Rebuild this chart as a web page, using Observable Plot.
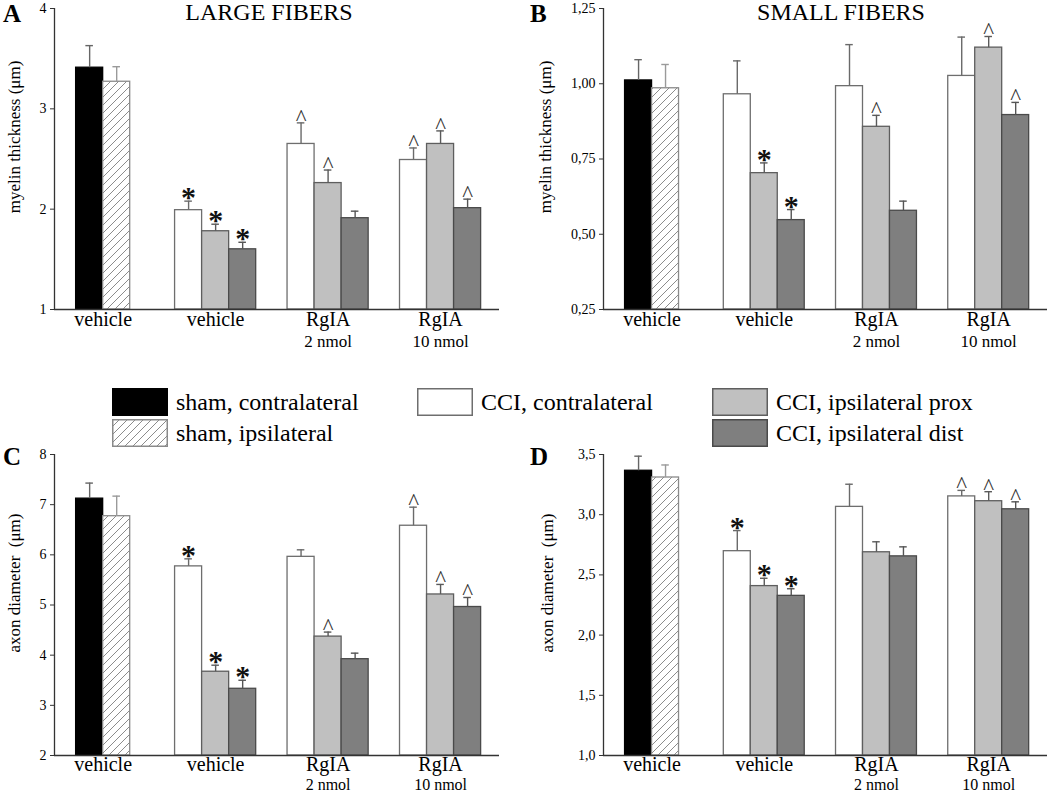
<!DOCTYPE html>
<html><head><meta charset="utf-8">
<script src="https://cdn.jsdelivr.net/npm/d3@7"></script>
<script src="https://cdn.jsdelivr.net/npm/@observablehq/plot@0.6"></script>
<style>
body{margin:0;background:#fff;}
#root{position:relative;width:1050px;height:793px;font-family:"Liberation Serif","Times New Roman",serif;overflow:hidden;background:#fff;color:#000;}
#root svg, #root svg text{font-family:"Liberation Serif","Times New Roman",serif !important;}
.panel{position:absolute;}
.letter{position:absolute;font-weight:bold;font-size:25px;line-height:1.1;}
.title{position:absolute;font-size:24px;line-height:1;transform:translateX(-50%);white-space:nowrap;}
.leg{position:absolute;display:flex;align-items:center;font-size:24px;line-height:1;white-space:nowrap;height:28px;}
.sw{width:56px;height:28px;box-sizing:border-box;margin-right:8px;flex:none;}
</style></head>
<body>
<svg width="0" height="0" style="position:absolute"><defs>
<pattern id="hatch" patternUnits="userSpaceOnUse" width="8" height="8"><rect width="8" height="8" fill="#fff"/><path d="M-1,1 l2,-2 M0,8 l8,-8 M7,9 l2,-2" stroke="#8c8c8c" stroke-width="1"/></pattern>
</defs></svg>
<div id="root"></div>
<script>
// ---- data ----
const groups = ["vehicle", "vehicle", "RgIA", "RgIA"];
const doses = ["", "", "2 nmol", "10 nmol"];
const series = ["sham, contralateral", "sham, ipsilateral", "CCI, contralateral", "CCI, ipsilateral prox", "CCI, ipsilateral dist"];
const barGroup = [0, 0, 1, 1, 1, 2, 2, 2, 3, 3, 3];
const barSeries = [0, 1, 2, 3, 4, 2, 3, 4, 2, 3, 4];

const largeMyelinMean = [3.41, 3.27, 1.99, 1.78, 1.60, 2.65, 2.26, 1.91, 2.49, 2.65, 2.01];
const largeMyelinErr  = [0.22, 0.15, 0.09, 0.07, 0.07, 0.21, 0.13, 0.07, 0.12, 0.13, 0.09];
const largeMyelinSig  = ["", "", "*", "*", "*", "^", "^", "", "^", "^", "^"];

const smallMyelinMean = [1.011, 0.985, 0.965, 0.703, 0.547, 0.992, 0.857, 0.578, 1.026, 1.120, 0.896];
const smallMyelinErr  = [0.069, 0.079, 0.111, 0.034, 0.035, 0.138, 0.038, 0.032, 0.129, 0.037, 0.042];
const smallMyelinSig  = ["", "", "", "*", "*", "", "^", "", "", "^", "^"];

const largeAxonMean = [7.12, 6.77, 5.77, 3.67, 3.33, 5.96, 4.37, 3.92, 6.58, 5.21, 4.96];
const largeAxonErr  = [0.31, 0.40, 0.15, 0.13, 0.17, 0.14, 0.09, 0.12, 0.37, 0.20, 0.19];
const largeAxonSig  = ["", "", "*", "*", "*", "", "^", "", "^", "^", "^"];

const smallAxonMean = [3.365, 3.309, 2.697, 2.407, 2.326, 3.065, 2.688, 2.654, 3.152, 3.112, 3.045];
const smallAxonErr  = [0.121, 0.104, 0.171, 0.065, 0.059, 0.188, 0.087, 0.079, 0.050, 0.079, 0.062];
const smallAxonSig  = ["", "", "*", "*", "*", "", "", "", "^", "^", "^"];

const ticksA = [1, 2, 3, 4];
const ticksB = [0.25, 0.5, 0.75, 1.0, 1.25];
const ticksC = [2, 3, 4, 5, 6, 7, 8];
const ticksD = [1.0, 1.5, 2.0, 2.5, 3.0, 3.5];

// ---- styles ----
const seriesFill = ["#000000", "url(#hatch)", "#ffffff", "#c0c0c0", "#7f7f7f"];
const seriesStroke = ["#000000", "#8a8a8a", "#6e6e6e", "#5e5e5e", "#4a4a4a"];
const errStroke = ["#666666", "#9a9a9a", "#6a6a6a", "#5a5a5a", "#555555"];
const FONT = "Liberation Serif, Times New Roman, serif";
const firstCenter = 1.8, groupStep = 4.16, xMax = 16.46;

function panel(cfg) {
  const bars = cfg.means.map((v, i) => {
    const g = barGroup[i];
    const members = barGroup.map((gg, j) => gg === g ? j : -1).filter(j => j >= 0);
    const k = members.indexOf(i), n = members.length;
    const pos = firstCenter + g * groupStep + (k - (n - 1) / 2);
    return {i, g, s: barSeries[i], v, e: cfg.errs[i], top: v + cfg.errs[i], sig: cfg.sig[i], pos, x1: pos - 0.5, x2: pos + 0.5};
  });
  const centers = groups.map((name, g) => ({name, dose: doses[g], c: firstCenter + g * groupStep}));
  const y0 = cfg.yDomain[0];
  const marks = [];
  series.forEach((s, si) => {
    marks.push(Plot.rect(bars.filter(b => b.s === si), {
      x1: "x1", x2: "x2", y1: () => y0, y2: "v",
      fill: seriesFill[si], stroke: seriesStroke[si], strokeWidth: 1.3
    }));
    const sb = bars.filter(b => b.s === si);
    marks.push(Plot.ruleX(sb, {x: "pos", y1: "v", y2: "top", stroke: errStroke[si], strokeWidth: 1.4}));
    marks.push(Plot.ruleY(sb, {y: "top", x1: d => d.pos - 0.14, x2: d => d.pos + 0.14, stroke: errStroke[si], strokeWidth: 1.4}));
  });
  marks.push(Plot.text(bars.filter(b => b.sig === "*"), {x: "pos", y: "top", text: "sig", fontFamily: FONT, fontSize: 30, fontWeight: "bold", lineAnchor: "bottom", dy: 6, fill: "#111"}));
  marks.push(Plot.text(bars.filter(b => b.sig === "^"), {x: "pos", y: "top", text: "sig", fontFamily: FONT, fontSize: 23, lineAnchor: "bottom", dy: 2, fill: "#333"}));
  marks.push(Plot.ruleX([0], {stroke: "#333", strokeWidth: 1.3}));
  marks.push(Plot.ruleY([y0], {stroke: "#333", strokeWidth: 1.3}));
  marks.push(Plot.axisY({ticks: cfg.ticks, tickFormat: cfg.fmt, tickSize: 4, tickPadding: 4, label: null, fontSize: 14, fontFamily: FONT, stroke: "#333"}));
  marks.push(Plot.text(centers, {x: "c", text: "name", frameAnchor: "bottom", lineAnchor: "bottom", dy: cfg.nameDy, fontSize: 20, fontFamily: FONT}));
  marks.push(Plot.text(centers, {x: "c", text: "dose", frameAnchor: "bottom", lineAnchor: "bottom", dy: cfg.doseDy, fontSize: cfg.doseSize, fontFamily: FONT}));
  marks.push(Plot.text([cfg.ylabel], {text: d => d, frameAnchor: "left", rotate: -90, dx: cfg.labelDx, dy: -22, fontSize: 17, fontFamily: FONT, textAnchor: "middle", lineAnchor: "middle"}));
  const svg = Plot.plot({
    width: cfg.w, height: cfg.h,
    marginLeft: cfg.ml, marginRight: cfg.mr, marginTop: cfg.mt, marginBottom: cfg.mb,
    x: {domain: [0, xMax], axis: null},
    y: {domain: cfg.yDomain, axis: null},
    style: {fontFamily: FONT, fontSize: "14px", background: "transparent", overflow: "visible", color: "#000"},
    marks
  });
  const div = document.createElement("div");
  div.className = "panel";
  div.style.left = cfg.left + "px";
  div.style.top = cfg.top + "px";
  div.style.width = cfg.w + "px";
  div.appendChild(svg);
  return div;
}

const root = document.getElementById("root");
const fmtInt = d => String(d);
const fmt2 = d => d.toFixed(2).replace(".", ",");
const fmt1 = d => d.toFixed(1).replace(".", ",");

root.appendChild(panel({means: largeMyelinMean, errs: largeMyelinErr, sig: largeMyelinSig, yDomain: [1, 4], ticks: ticksA, fmt: fmtInt,
  ylabel: "myelin thickness (μm)", labelDx: -40, nameDy: 16, doseDy: 37, doseSize: 17, left: 0, top: 0, w: 525, h: 360, ml: 54, mr: 26, mt: 8, mb: 51}));
root.appendChild(panel({means: smallMyelinMean, errs: smallMyelinErr, sig: smallMyelinSig, yDomain: [0.25, 1.25], ticks: ticksB, fmt: fmt2,
  ylabel: "myelin thickness (μm)", labelDx: -58, nameDy: 16, doseDy: 37, doseSize: 17, left: 525, top: 0, w: 525, h: 360, ml: 78, mr: 3, mt: 8, mb: 51}));
root.appendChild(panel({means: largeAxonMean, errs: largeAxonErr, sig: largeAxonSig, yDomain: [2, 8], ticks: ticksC, fmt: fmtInt,
  ylabel: "axon diameter  (μm)", labelDx: -40, nameDy: 15, doseDy: 34, doseSize: 16, left: 0, top: 440, w: 525, h: 353, ml: 54, mr: 26, mt: 14, mb: 38}));
root.appendChild(panel({means: smallAxonMean, errs: smallAxonErr, sig: smallAxonSig, yDomain: [1.0, 3.5], ticks: ticksD, fmt: fmt1,
  ylabel: "axon diameter  (μm)", labelDx: -56, nameDy: 15, doseDy: 34, doseSize: 16, left: 525, top: 440, w: 525, h: 353, ml: 78, mr: 3, mt: 14, mb: 38}));

// letters and titles
function addText(cls, txt, left, top) {
  const d = document.createElement("div");
  d.className = cls; d.textContent = txt;
  d.style.left = left + "px"; d.style.top = top + "px";
  root.appendChild(d);
}
addText("letter", "A", 3, 0);
addText("letter", "B", 530, 0);
addText("letter", "C", 3, 443);
addText("letter", "D", 530, 443);
addText("title", "LARGE FIBERS", 269, 0);
addText("title", "SMALL FIBERS", 841, 0);

// legend
const legendPos = [[112, 388], [112, 419], [417, 388], [712, 388], [712, 419]];
series.forEach((s, si) => {
  const item = document.createElement("div");
  item.className = "leg";
  item.style.left = legendPos[si][0] + "px";
  item.style.top = legendPos[si][1] + "px";
  const sw = document.createElementNS("http://www.w3.org/2000/svg", "svg");
  sw.setAttribute("class", "sw");
  sw.setAttribute("width", 56); sw.setAttribute("height", 28);
  const r = document.createElementNS("http://www.w3.org/2000/svg", "rect");
  r.setAttribute("x", 0.75); r.setAttribute("y", 0.75); r.setAttribute("width", 54.5); r.setAttribute("height", 26.5);
  r.setAttribute("fill", seriesFill[si]); r.setAttribute("stroke", seriesStroke[si]); r.setAttribute("stroke-width", 1.5);
  sw.appendChild(r);
  item.appendChild(sw);
  const t = document.createElement("span");
  t.textContent = s;
  item.appendChild(t);
  root.appendChild(item);
});
</script>
</body></html>
